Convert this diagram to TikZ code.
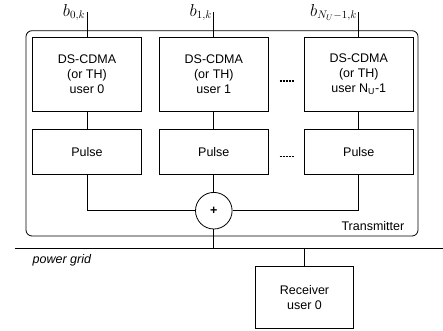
\documentclass[tikz,border=0pt]{standalone}
\usepackage{fontspec}
\setmainfont{Liberation Sans}
\tikzset{
	block/.style={draw, minimum width=109pt, align=center, inner sep=0pt},
	coder/.style={block, minimum height=73.5pt},
	pulsebox/.style={block, minimum height=45.5pt},
	adder/.style={draw, circle, minimum size=36.6pt, inner sep=0pt},
	gap/.style={line width=1.1pt, dash pattern=on 2.4pt off 0.7pt},
	bitlabel/.style={anchor=south east, inner sep=1.5pt, font=\fontsize{16}{16}\selectfont},
}
\begin{document}
\begin{tikzpicture}[line width=0.8pt, font=\fontsize{12.5}{14.7}\selectfont]
			\useasboundingbox (0,0) rectangle (443pt,330pt);
			% transmitter frame
			\draw[rounded corners=6pt] (26pt,94pt) rectangle (418pt,299.3pt);
			\node[anchor=east] (tx) at (408pt,103.5pt) {Transmitter};
			% spreading blocks
			\node[coder] (ds0) at (87pt,255.8pt) {DS-CDMA\\(or TH)\\user 0};
			\node[coder] (ds1) at (213.8pt,255.8pt) {DS-CDMA\\(or TH)\\user 1};
			\node[coder] (ds2) at (358.8pt,255.8pt) {DS-CDMA\\(or TH)\\user N\textsubscript{U}-1};
			\node[pulsebox] (p0) at (87pt,178.3pt) {Pulse};
			\node[pulsebox] (p1) at (213.8pt,178.3pt) {Pulse};
			\node[pulsebox] (p2) at (358.8pt,178.3pt) {Pulse};
			\draw[gap] (279.5pt,249pt) -- (294.6pt,249pt);
			\draw[gap] (279.5pt,173.3pt) -- (294.6pt,173.3pt);
			% inputs
			\coordinate (in0) at (87pt,318pt);
			\coordinate (in1) at (213.8pt,318pt);
			\coordinate (in2) at (358.8pt,318pt);
			\node[bitlabel] (b0) at (in0 |- 0,307pt) {$b_{0,k}$};
			\node[bitlabel] (b1) at (in1 |- 0,307pt) {$b_{1,k}$};
			\node[bitlabel] (b2) at (in2 |- 0,307pt) {$b_{N_U-1,k}$};
			\draw (in0) -- (ds0);
			\draw (in1) -- (ds1);
			\draw (in2) -- (ds2);
			\draw (ds0) -- (p0);
			\draw (ds1) -- (p1);
			\draw (ds2) -- (p2);
			% adder
			\node[adder] (sum) at (213.8pt,119.3pt) {\textbf{+}};
			\draw (p0) |- (sum);
			\draw (p1) -- (sum);
			\draw (p2) |- (sum);
			% power grid
			\coordinate (gl) at (14.7pt,81.7pt);
			\coordinate (gr) at (443pt,81.7pt);
			\draw (gl) -- (gr);
			\node[anchor=west] (grid) at (29pt,69.3pt) {\itshape power grid};
			\draw (sum) -- (sum |- gl);
			% receiver
			\node[block, minimum width=97.6pt, minimum height=62pt] (rx) at (304.5pt,32.7pt) {Receiver\\user 0};
			\draw (rx) -- (rx |- gl);
		\end{tikzpicture}
\end{document}
